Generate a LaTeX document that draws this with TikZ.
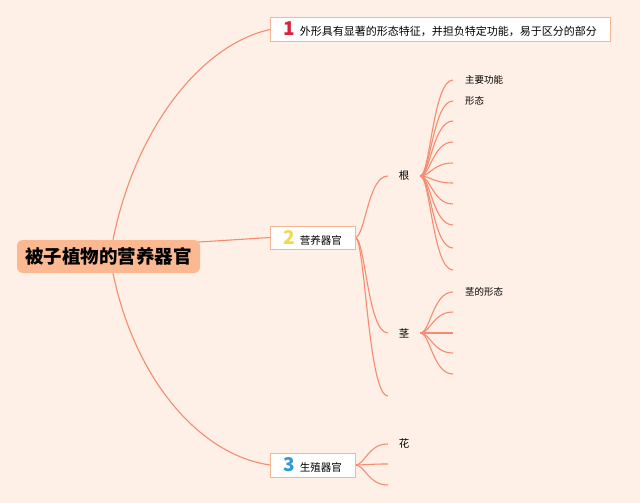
\documentclass[tikz,border=0pt]{standalone}
\usepackage{fontspec}
\setmainfont{Noto Sans CJK SC}
\usetikzlibrary{calc,backgrounds}
\definecolor{bgc}{HTML}{FEF0E6}
\definecolor{linec}{HTML}{F58B70}
\definecolor{boxline}{HTML}{F5B597}
\definecolor{rootfill}{HTML}{FCB890}
\definecolor{numred}{HTML}{D8233F}
\definecolor{numyel}{HTML}{F2DA4C}
\definecolor{numblu}{HTML}{2A9AD8}
\newcommand{\bignum}[2]{{\fontsize{19}{19}\selectfont\bfseries\color{#1}#2}\hspace{5pt}}
\begin{document}
\begin{tikzpicture}[x=1pt,y=-1pt,
  conn/.style={draw=linec, line width=1.1pt},
  fan/.style={to path={.. controls ($(\tikztostart)+(10,0)$) and ($(\tikztotarget)+(-20,0)$) .. (\tikztotarget)}},
  rootbox/.style={fill=rootfill, rounded corners=6pt, minimum width=183pt, minimum height=33pt, inner sep=0pt, font=\fontsize{18.5}{20}\selectfont\bfseries},
  topic/.style={draw=boxline, fill=white, line width=0.6pt, anchor=west, minimum height=24pt, inner xsep=13pt, inner ysep=0pt},
  subnode/.style={minimum width=32pt, inner sep=0pt, font=\fontsize{10.5}{12}\selectfont},
  leaf/.style={anchor=west, inner xsep=12pt, inner ysep=0pt, font=\fontsize{9.5}{11}\selectfont}]
\begin{scope}[on background layer]
  \fill[bgc] (0,0) rectangle (640,503);
\end{scope}
\useasboundingbox (0,0) rectangle (640,503);

% main nodes
\node[rootbox] (root) at (108.5,256.5) {被子植物的营养器官};
\node[topic, font=\fontsize{11}{13}\selectfont] (t1) at (270,29.5) {\bignum{numred}{1}外形具有显著的形态特征，并担负特定功能，易于区分的部分};
\node[topic, minimum height=23pt, font=\fontsize{10.5}{12}\selectfont] (t2) at (270,237.5) {\bignum{numyel}{2}营养器官};
\node[topic, font=\fontsize{10.5}{12}\selectfont] (t3) at (270,465) {\bignum{numblu}{3}生殖器官};

% second level
\node[subnode] (gen) at (404,176) {根};
\node[subnode] (jing) at (404,333) {茎};
\coordinate (t2c) at (388,396);
\node[subnode] (hua) at (404,444) {花};
\coordinate (t3b) at (388,464);
\coordinate (t3c) at (388,485);

% leaves of gen
\node[leaf] (g1) at (453,80) {主要功能};
\node[leaf] (g2) at (453,101) {形态};
\coordinate (g3) at (453,121);
\coordinate (g4) at (453,142);
\coordinate (g5) at (453,163);
\coordinate (g6) at (453,183);
\coordinate (g7) at (453,204);
\coordinate (g8) at (453,225);
\coordinate (g9) at (453,248);
\coordinate (g10) at (453,270);

% leaves of jing
\node[leaf] (j1) at (453,292) {茎的形态};
\coordinate (j2) at (453,312);
\coordinate (j3) at (453,333);
\coordinate (j4) at (453,353);
\coordinate (j5) at (453,374);

\begin{scope}[on background layer]
  \draw[conn] ($(root.north)+(4.5,0)$) .. controls (135,130) and (200,45) .. (t1.west);
  \draw[conn] ($(root.center)+(4.5,-9)$) -- (t2.west);
  \draw[conn] ($(root.south)+(4.5,0)$) .. controls (135,380) and (200,455) .. (t3.west);

  \draw[conn] (t2.east) to[fan] (gen.west);
  \draw[conn] (t2.east) to[fan] (jing.west);
  \draw[conn] (t2.east) to[fan] (t2c);

  \draw[conn] (t3.east) to[fan] (hua.west);
  \draw[conn] (t3.east) to[fan] (t3b);
  \draw[conn] (t3.east) to[fan] (t3c);

  \draw[conn] (gen.east) to[fan] (g1.west);
  \draw[conn] (gen.east) to[fan] (g2.west);
  \foreach \i in {3,...,10} {\draw[conn] (gen.east) to[fan] (g\i);}

  \draw[conn] (jing.east) to[fan] (j1.west);
  \foreach \i in {2,...,5} {\draw[conn] (jing.east) to[fan] (j\i);}
\end{scope}
\end{tikzpicture}
\end{document}
